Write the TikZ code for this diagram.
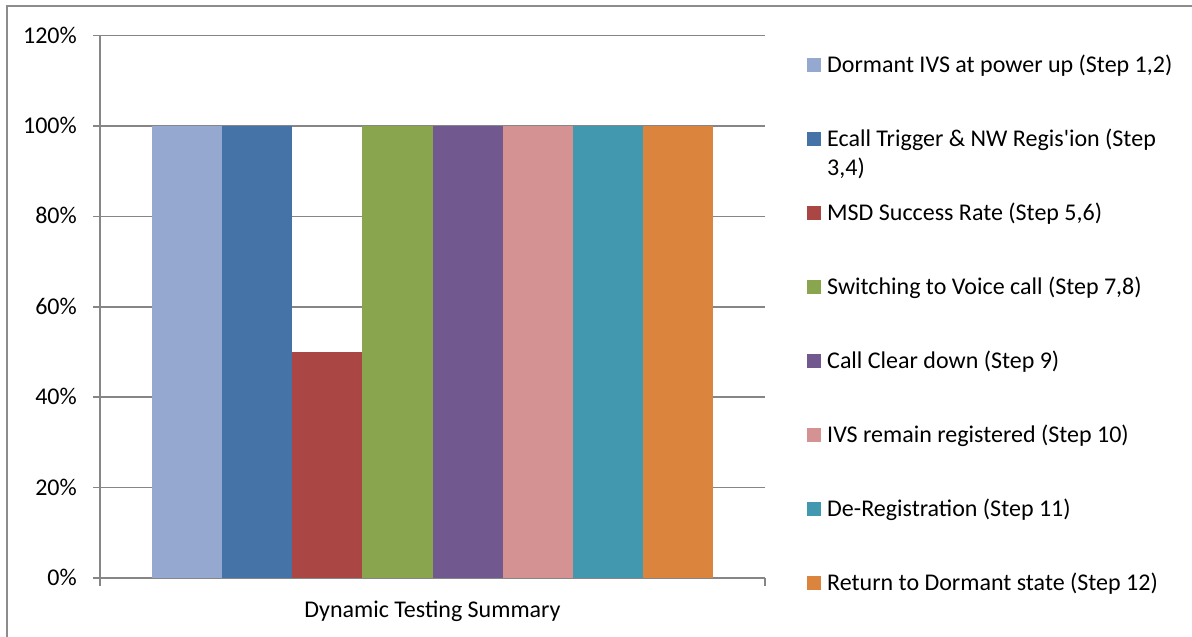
\documentclass[tikz,border=0pt]{standalone}
\usepackage{fontspec}
\setmainfont{Carlito}

\definecolor{framegray}{HTML}{8C8C8C}
\definecolor{axisgray}{HTML}{868686}
\definecolor{serA}{HTML}{95A9D0}
\definecolor{serB}{HTML}{4572A7}
\definecolor{serC}{HTML}{AA4643}
\definecolor{serD}{HTML}{89A54E}
\definecolor{serE}{HTML}{71588F}
\definecolor{serF}{HTML}{D49293}
\definecolor{serG}{HTML}{4198AF}
\definecolor{serH}{HTML}{DB843D}

\tikzset{
  axisline/.style={draw=axisgray, line width=1.5pt},
  ticklabel/.style={anchor=base east, inner sep=0pt},
  legtext/.style={anchor=base west, inner sep=0pt},
  legkey/.style={anchor=south west, minimum size=14pt, inner sep=0pt},
}

\begin{document}
\begin{tikzpicture}[x=1pt, y=-1pt, font=\fontsize{24}{29}\selectfont]
  \useasboundingbox (0,0) rectangle (1192,637);
  \draw[framegray, line width=2pt] (7,637) -- (7,6) -- (1192,6);

  % value axis: labels, ticks and grid
  \foreach \p in {0,20,...,120} {
    \node[ticklabel] (tick\p) at (77,{578-4.52*\p+7.5}) {\p\%};
    \draw[axisline] (93,{578-4.52*\p}) -- (765,{578-4.52*\p});
  }
  \draw[axisline] (100,36) -- (100,586);
  \draw[axisline] (765,578) -- (765,586);

  % one bar per series
  \foreach \col/\val [count=\i from 0] in
    {serA/100, serB/100, serC/50, serD/100, serE/100, serF/100, serG/100, serH/100}
    \fill[\col] ({152+70.125*\i},578) rectangle ++(70.125,{-4.52*\val});

  \node[anchor=base, inner sep=0pt] (cat) at (432.5,617) {Dynamic Testing Summary};

  % legend
  \foreach \col/\txt [count=\i from 0] in
    {serA/{Dormant IVS at power up (Step 1,2)},
     serB/{Ecall Trigger \& NW Regis\textquotesingle ion (Step},
     serC/{MSD Success Rate (Step 5,6)},
     serD/{Switching to Voice call (Step 7,8)},
     serE/{Call Clear down (Step 9)},
     serF/{IVS remain registered (Step 10)},
     serG/{De-Registration (Step 11)},
     serH/{Return to Dormant state (Step 12)}} {
    \node[legkey, fill=\col] (key\i) at (807,{72+74*\i}) {};
    \node[legtext] (leg\i) at (827,{72+74*\i}) {\txt};
  }
  \node[legtext] (leg1b) at ([yshift=-29pt]leg1.base west) {3,4)};
\end{tikzpicture}
\end{document}
